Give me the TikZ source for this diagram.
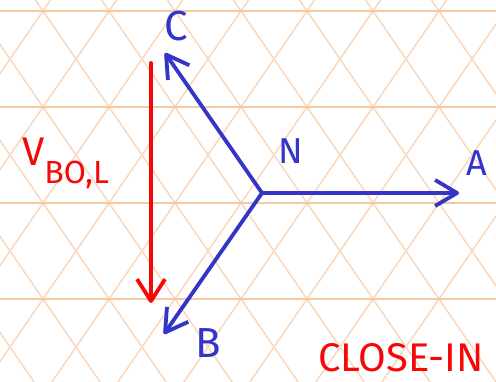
\documentclass[tikz,border=0pt]{standalone}
\usepackage{fontspec}
\setsansfont{Fira Sans}
\usetikzlibrary{arrows.meta}
\definecolor{penblue}{RGB}{52,52,200}
\definecolor{penred}{RGB}{245,8,8}
\definecolor{gridrow}{RGB}{244,202,164}
\definecolor{griddiag}{RGB}{248,218,194}
\tikzset{
  phasor/.style={penblue, line width=3.8pt, line cap=round,
    -{Straight Barb[length=22pt,width=26pt,line join=round]}},
  voltarrow/.style={draw=penred, line width=3.8pt, line cap=round,
    -{Straight Barb[length=22pt,width=28pt,line join=round]}},
  bluetag/.style={penblue, font=\sffamily\fontsize{36}{36}\selectfont, inner sep=0pt},
  redtag/.style={penred, font=\sffamily, inner sep=0pt}
}

\begin{document}
\begin{tikzpicture}[x=1pt,y=-1pt]
\useasboundingbox (0,0) rectangle (496,382);
% paper grid
\begin{scope}
\clip (0,0) rectangle (496,382);
\fill[white] (0,0) rectangle (496,382);
\foreach \k in {-6,...,9} {
  \draw[griddiag, line width=1.6pt] ({43+66*\k-137.5},-189) -- ({43+66*\k+275},411);
  \draw[griddiag, line width=1.6pt] ({43+66*\k+137.5},-189) -- ({43+66*\k-275},411);
}
\foreach \y in {11,107,203,299}
  \draw[gridrow, line width=1.8pt] (0,\y) -- (496,\y);
\end{scope}
% phasors from the neutral point
\coordinate (n) at (262,193);
\coordinate (a) at (459,193);
\coordinate (b) at (164,334);
\coordinate (c) at (165,53);
\draw[phasor] (n) -- (a);
\draw[phasor] (n) -- (b);
\draw[phasor] (n) -- (c);
\node[bluetag] (lblN) at (291,151) {N};
\node[bluetag] (lblA) at (477,163) {A};
\node[bluetag, font=\sffamily\fontsize{42}{42}\selectfont] (lblB) at (208,343) {B};
\node[bluetag, font=\sffamily\fontsize{42}{42}\selectfont] (lblC) at (176,26) {C};
% line-to-line voltage
\coordinate (vtop) at (151,63);
\coordinate (vbot) at (151,303);
\draw[voltarrow] (vtop) -- (vbot);
\node[redtag, anchor=west] (lblV) at (22,163)
  {\fontsize{40}{40}\selectfont V\raisebox{-18pt}{\fontsize{32}{32}\selectfont BO,L}};
\node[redtag, font=\sffamily\fontsize{40}{40}\selectfont] (lblClose) at (401,358) {CLOSE-IN};
\end{tikzpicture}
\end{document}
